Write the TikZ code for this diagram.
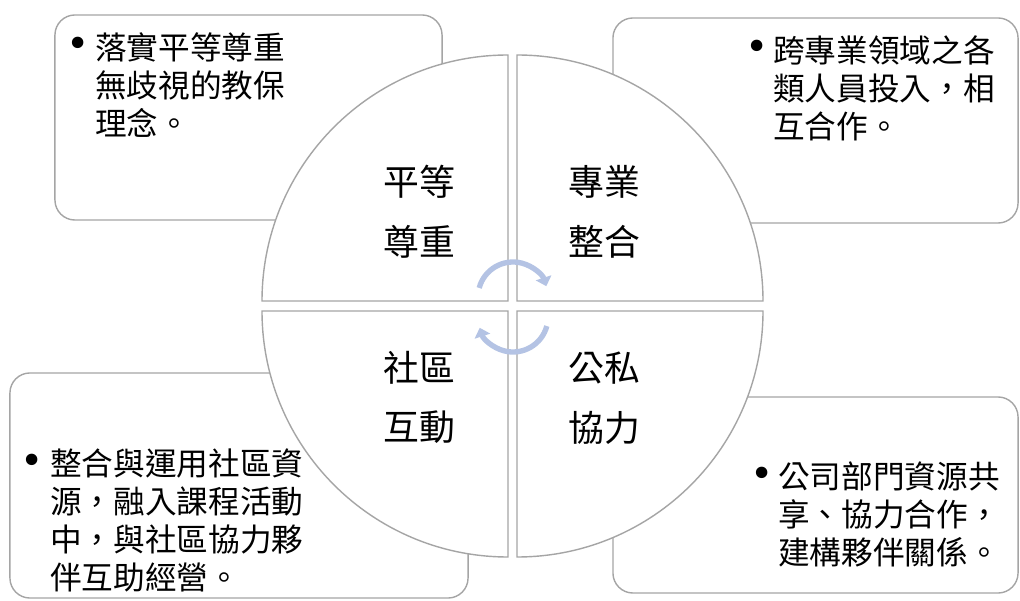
\documentclass[tikz,border=0pt]{standalone}
\usepackage{fontspec}
\setmainfont{Noto Sans CJK TC}
\newfontfamily\dotfont{DejaVu Sans}
\usetikzlibrary{arrows.meta,positioning}
\definecolor{edgegray}{RGB}{165,165,165}
\definecolor{cyclecol}{RGB}{180,195,228}

\begin{document}
\begin{tikzpicture}[
        x=0.025cm, y=0.025cm,
        infobox/.style={rectangle, draw=edgegray, line width=1pt, rounded corners=0.5cm, fill=white},
        quarter/.style={draw=edgegray, line width=1pt, fill=white},
        bodytext/.style={anchor=north west, align=left, inner sep=0pt, font=\fontsize{22.5}{27}\selectfont},
        bulletdot/.style={inner sep=0pt, font=\dotfont\fontsize{28}{28}\selectfont},
        quadtext/.style={align=center, inner sep=0pt, font=\fontsize{25.5}{42.5}\selectfont},
        cyc/.style={draw=cyclecol, line width=3.8pt, -{Triangle[length=0.22cm, width=0.4cm]}}
    ]
        \useasboundingbox (0,0) rectangle (1020,600);

        % Info boxes (behind the circle)
        \node[infobox, minimum width=9.675cm, minimum height=5.125cm] (equalbox) at (248.5,482.5) {};
        \node[infobox, minimum width=10.125cm, minimum height=5.125cm] (probox) at (815.5,479.5) {};
        \node[infobox, minimum width=11.45cm, minimum height=5.625cm] (commbox) at (239,114.5) {};
        \node[infobox, minimum width=10.125cm, minimum height=4.9cm] (partbox) at (815.5,105) {};

        % Quarter circles
        \filldraw[quarter] (508,299) -- ++(-246,0) arc[start angle=180, end angle=90, radius=246] -- cycle;
        \filldraw[quarter] (517,299) -- ++(0,246) arc[start angle=90, end angle=0, radius=246] -- cycle;
        \filldraw[quarter] (508,289) -- ++(-246,0) arc[start angle=180, end angle=270, radius=246] -- cycle;
        \filldraw[quarter] (517,289) -- ++(246,0) arc[start angle=0, end angle=-90, radius=246] -- cycle;

        % Quarter labels
        \node[quadtext] (equal) at (419,388) {平等\\尊重};
        \node[quadtext] (pro) at (604,388) {專業\\整合};
        \node[quadtext] (comm) at (419,202.5) {社區\\互動};
        \node[quadtext] (part) at (604,201.5) {公私\\協力};

        % Cycle arrows
        \coordinate (upperhub) at (513,303);
        \coordinate (lowerhub) at (513,283);
        \draw[cyc] ([shift={(165:35)}]upperhub) arc[start angle=165, end angle=18, radius=35];
        \draw[cyc] ([shift={(-15:35)}]lowerhub) arc[start angle=-15, end angle=-162, radius=35];

        % Box texts
        \node[bulletdot] (equaldot) at (78,553) {•};
        \node[bodytext] (equaltext) at (95,568) {落實平等尊重\\無歧視的教保\\理念。};
        \node[bulletdot] (prodot) at (757,550) {•};
        \node[bodytext] (protext) at (773,565) {跨專業領域之各\\類人員投入，相\\互合作。};
        \node[bulletdot] (commdot) at (32,136) {•};
        \node[bodytext] (commtext) at (50,151) {整合與運用社區資\\源，融入課程活動\\中，與社區協力夥\\伴互助經營。};
        \node[bulletdot] (partdot) at (762,123) {•};
        \node[bodytext] (parttext) at (778,138) {公司部門資源共\\享、協力合作，\\建構夥伴關係。};
    \end{tikzpicture}
\end{document}
